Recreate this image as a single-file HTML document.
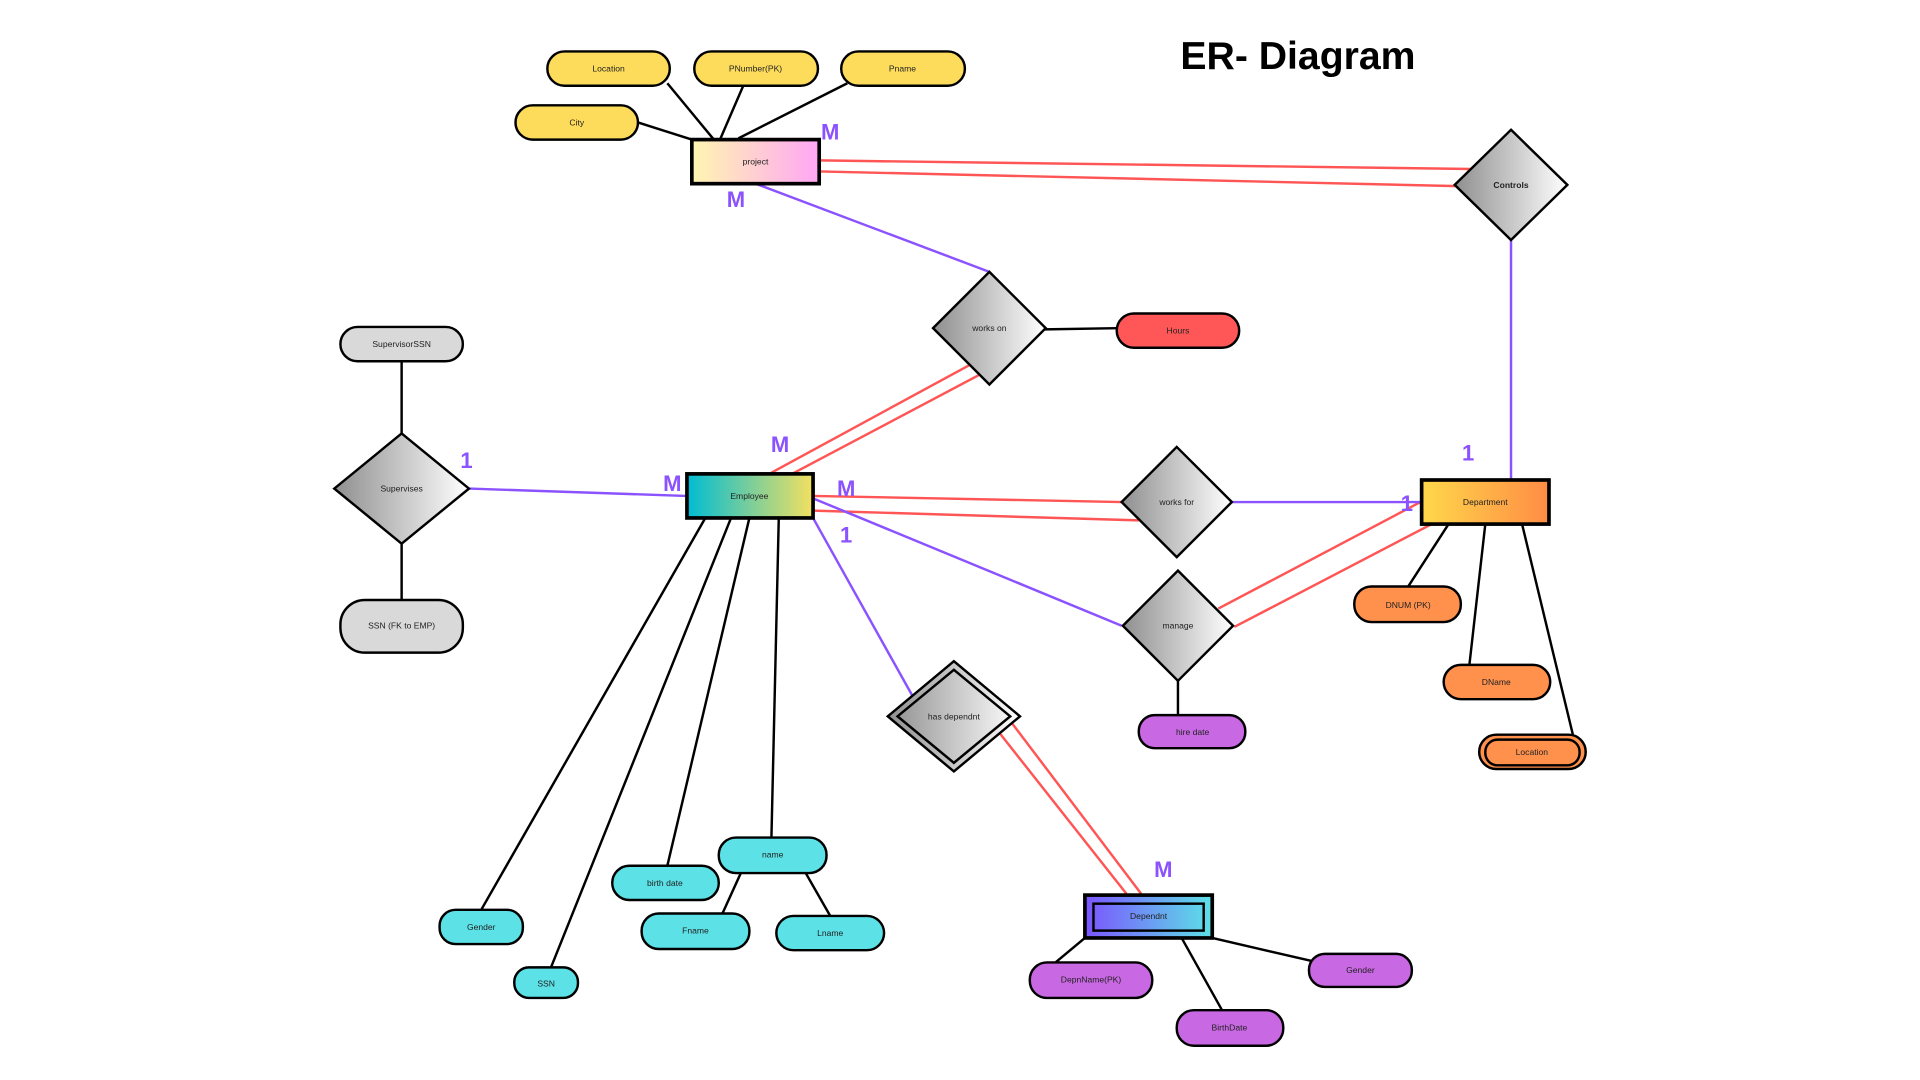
<!DOCTYPE html>
<html><head><meta charset="utf-8"><style>
html,body{margin:0;padding:0;background:#fff;width:1920px;height:1080px;overflow:hidden}
svg{display:block}
text{font-family:"Liberation Sans",sans-serif}
.l{font-size:7px;fill:#222;text-anchor:middle;dominant-baseline:central}
.c{font-size:18px;font-weight:bold;fill:#8b52ff;text-anchor:middle;dominant-baseline:central}
.k{stroke:#000;stroke-width:2;fill:none}
.r{stroke:#ff5555;stroke-width:2;fill:none}
.p{stroke:#8b52ff;stroke-width:2;fill:none}
.y{fill:#fddc5c;stroke:#000;stroke-width:2}
.cy{fill:#5ce1e6;stroke:#000;stroke-width:2}
.pu{fill:#c868e3;stroke:#000;stroke-width:2}
.o{fill:#ff914d;stroke:#000;stroke-width:2}
.g{fill:#d9d9d9;stroke:#000;stroke-width:2}
.d{fill:url(#gd);stroke:#000;stroke-width:2}
</style></head><body>
<svg width="1920" height="1080" viewBox="0 0 1568 882" xmlns="http://www.w3.org/2000/svg">
<defs>
<linearGradient id="gd" x1="0" y1="0" x2="1" y2="0"><stop offset="0" stop-color="#8f8f8f"/><stop offset="1" stop-color="#ffffff"/></linearGradient>
<linearGradient id="gp" x1="0" y1="0" x2="1" y2="0"><stop offset="0" stop-color="#fff6b0"/><stop offset="1" stop-color="#ffa6f5"/></linearGradient>
<linearGradient id="ge" x1="0" y1="0" x2="1" y2="0"><stop offset="0" stop-color="#00bcd4"/><stop offset="1" stop-color="#f4e060"/></linearGradient>
<linearGradient id="gdep" x1="0" y1="0" x2="1" y2="0"><stop offset="0" stop-color="#ffd84a"/><stop offset="1" stop-color="#ff8c45"/></linearGradient>
<linearGradient id="gdp" x1="0" y1="0" x2="1" y2="0"><stop offset="0" stop-color="#7b55ff"/><stop offset="1" stop-color="#5ce1e6"/></linearGradient>
</defs>
<text x="1060" y="46" style="font-size:32px;font-weight:bold;fill:#000" text-anchor="middle" dominant-baseline="central">ER- Diagram</text>

<!-- lines -->
<g class="k">
<line x1="521" y1="100" x2="565" y2="114"/><line x1="545" y1="68" x2="583" y2="114"/>
<line x1="607" y1="70" x2="588" y2="114"/><line x1="692" y1="68" x2="603" y2="113"/>
<line x1="853" y1="269" x2="912" y2="268"/>
<line x1="328" y1="295" x2="328" y2="354"/><line x1="328" y1="444" x2="328" y2="490"/>
<line x1="962" y1="556" x2="962" y2="584"/>
<line x1="1183" y1="428" x2="1150" y2="479"/><line x1="1213" y1="428" x2="1200" y2="543"/><line x1="1243" y1="428" x2="1285" y2="602"/>
<line x1="886" y1="766" x2="862" y2="786"/><line x1="965" y1="766" x2="998" y2="825"/><line x1="990" y1="766" x2="1072" y2="785"/>
<line x1="576" y1="423" x2="393" y2="743"/><line x1="597" y1="423" x2="450" y2="790"/>
<line x1="612" y1="423" x2="545" y2="707"/><line x1="636" y1="423" x2="630" y2="684"/>
<line x1="605" y1="713" x2="590" y2="746"/><line x1="658" y1="713" x2="678" y2="748"/>
</g>
<g class="r">
<line x1="669" y1="131" x2="1202" y2="138"/><line x1="669" y1="140" x2="1190" y2="152"/>
<line x1="792" y1="298" x2="630" y2="386"/><line x1="800" y1="306" x2="645" y2="388"/>
<line x1="664" y1="405" x2="916" y2="410"/><line x1="664" y1="417" x2="930" y2="425"/>
<line x1="995" y1="497" x2="1160" y2="410"/><line x1="1008" y1="512" x2="1175" y2="425"/>
<line x1="815" y1="597" x2="920" y2="730"/><line x1="826" y1="590" x2="932" y2="730"/>
</g>
<g class="p">
<line x1="1234" y1="196" x2="1234" y2="392"/>
<line x1="617" y1="150" x2="808" y2="222"/>
<line x1="383" y1="399" x2="560" y2="405"/>
<line x1="1006" y1="410" x2="1161" y2="410"/>
<line x1="664" y1="407" x2="916" y2="511"/>
<line x1="664" y1="423" x2="745" y2="568"/>
</g>

<!-- attributes -->
<rect class="y" x="447" y="42" width="100" height="28" rx="14"/><text class="l" x="497" y="56">Location</text>
<rect class="y" x="567" y="42" width="101" height="28" rx="14"/><text class="l" x="617" y="56">PNumber(PK)</text>
<rect class="y" x="687" y="42" width="101" height="28" rx="14"/><text class="l" x="737" y="56">Pname</text>
<rect class="y" x="421" y="86" width="100" height="28" rx="14"/><text class="l" x="471" y="100">City</text>
<rect x="912" y="256" width="100" height="28" rx="14" fill="#ff5757" stroke="#000" stroke-width="2"/><text class="l" x="962" y="270">Hours</text>
<rect class="g" x="278" y="267" width="100" height="28" rx="14"/><text class="l" x="328" y="281">SupervisorSSN</text>
<rect class="g" x="278" y="490" width="100" height="43" rx="20"/><text class="l" x="328" y="511">SSN (FK to EMP)</text>
<rect class="pu" x="930" y="584" width="87" height="27" rx="13"/><text class="l" x="974" y="598">hire date</text>
<rect class="o" x="1106" y="479" width="87" height="29" rx="14"/><text class="l" x="1150" y="494">DNUM (PK)</text>
<rect class="o" x="1179" y="543" width="87" height="28" rx="14"/><text class="l" x="1222" y="557">DName</text>
<rect class="o" x="1208" y="600" width="87" height="28" rx="14"/><rect class="o" x="1213" y="604" width="77" height="21" rx="10"/><text class="l" x="1251" y="614">Location</text>
<rect class="pu" x="841" y="786" width="100" height="29" rx="14"/><text class="l" x="891" y="800">DepnName(PK)</text>
<rect class="pu" x="961" y="825" width="87" height="29" rx="14"/><text class="l" x="1004" y="839">BirthDate</text>
<rect class="pu" x="1069" y="779" width="84" height="27" rx="13"/><text class="l" x="1111" y="792">Gender</text>
<rect class="cy" x="359" y="743" width="68" height="28" rx="13"/><text class="l" x="393" y="757">Gender</text>
<rect class="cy" x="420" y="790" width="52" height="25" rx="12"/><text class="l" x="446" y="803">SSN</text>
<rect class="cy" x="500" y="707" width="87" height="28" rx="14"/><text class="l" x="543" y="721">birth date</text>
<rect class="cy" x="587" y="684" width="88" height="29" rx="14"/><text class="l" x="631" y="698">name</text>
<rect class="cy" x="524" y="746" width="88" height="29" rx="14"/><text class="l" x="568" y="760">Fname</text>
<rect class="cy" x="634" y="748" width="88" height="28" rx="14"/><text class="l" x="678" y="762">Lname</text>

<!-- entities -->
<rect x="565" y="114" width="104" height="36" fill="url(#gp)" stroke="#000" stroke-width="3"/><text class="l" x="617" y="132">project</text>
<rect x="561" y="387" width="103" height="36" fill="url(#ge)" stroke="#000" stroke-width="3"/><text class="l" x="612" y="405">Employee</text>
<rect x="1161" y="392" width="104" height="36" fill="url(#gdep)" stroke="#000" stroke-width="3"/><text class="l" x="1213" y="410">Department</text>
<rect x="886" y="731" width="104" height="35" fill="url(#gdp)" stroke="#000" stroke-width="3"/><rect x="893" y="738" width="90" height="22" fill="none" stroke="#000" stroke-width="2"/><text class="l" x="938" y="748">Dependnt</text>

<!-- relationships -->
<polygon class="d" points="1234,106 1280,151 1234,196 1188,151"/><text class="l" x="1234" y="151" font-weight="bold">Controls</text>
<polygon class="d" points="808,222 854,268 808,314 762,268"/><text class="l" x="808" y="268">works on</text>
<polygon class="d" points="328,354 383,399 328,444 273,399"/><text class="l" x="328" y="399">Supervises</text>
<polygon class="d" points="961,365 1006,410 961,455 916,410"/><text class="l" x="961" y="410">works for</text>
<polygon class="d" points="962,466 1007,511 962,556 917,511"/><text class="l" x="962" y="511">manage</text>
<polygon class="d" points="779,540 833,585 779,630 725,585"/><polygon points="779,547 825,585 779,623 733,585" fill="none" stroke="#000" stroke-width="2"/><text class="l" x="779" y="585">has dependnt</text>

<!-- cardinalities -->
<text class="c" x="678" y="108">M</text><text class="c" x="601" y="163">M</text>
<text class="c" x="637" y="363">M</text><text class="c" x="549" y="395">M</text>
<text class="c" x="691" y="399">M</text><text class="c" x="691" y="437">1</text>
<text class="c" x="381" y="376">1</text><text class="c" x="1199" y="370">1</text>
<text class="c" x="1149" y="411">1</text><text class="c" x="950" y="710">M</text>
</svg>
</body></html>
